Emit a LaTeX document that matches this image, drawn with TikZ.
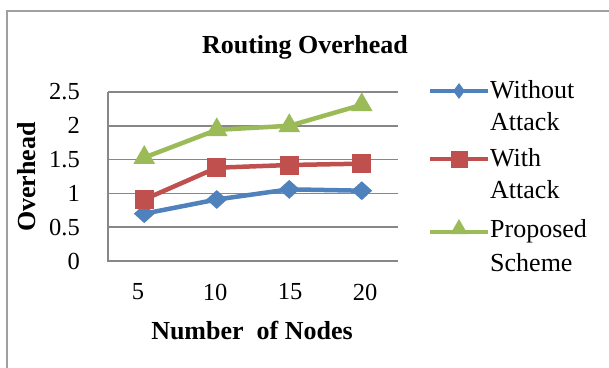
\documentclass[tikz,border=0pt]{standalone}
\usepackage{fontspec}
\setmainfont{Liberation Serif}
\usetikzlibrary{shapes.geometric}
\definecolor{sblue}{HTML}{4F81BD}
\definecolor{sred}{HTML}{C0504D}
\definecolor{sgreen}{HTML}{9BBB59}
\definecolor{gridgray}{HTML}{878787}
\definecolor{framegray}{HTML}{A0A0A0}
\tikzset{
  grid line/.style={draw=gridgray, line width=1.6pt},
  series/.style={line width=4.5pt, line join=round},
  dmark/.style={diamond, fill=sblue, minimum width=21pt, minimum height=19pt, inner sep=0pt},
  smark/.style={rectangle, fill=sred, minimum width=19pt, minimum height=19pt, inner sep=0pt},
  tmark/.style={regular polygon, regular polygon sides=3, fill=sgreen, minimum size=25pt, inner sep=0pt},
  ldmark/.style={diamond, fill=sblue, minimum width=12pt, minimum height=16pt, inner sep=0pt},
  lsmark/.style={rectangle, fill=sred, minimum width=17pt, minimum height=17pt, inner sep=0pt},
  ltmark/.style={regular polygon, regular polygon sides=3, fill=sgreen, minimum size=20pt, inner sep=0pt},
  ticklabel/.style={font=\fontsize{24.5}{24.5}\selectfont, inner sep=0pt},
  legtext/.style={font=\fontsize{26}{26}\selectfont, anchor=west, inner sep=0pt},
  boldlabel/.style={font=\fontsize{26}{26}\selectfont\bfseries, inner sep=0pt}
}
\begin{document}
\begin{tikzpicture}[x=1pt, y=-1pt]
\useasboundingbox (0,0) rectangle (609,367);
\fill[white] (0,0) rectangle (609,367);
% outer frame
\draw[framegray, line width=1.5pt] (7,380) -- (7,11) -- (620,11);
% title
\node[boldlabel] (title) at (305,47) {Routing Overhead};
% gridlines
\foreach \v in {0.5,1,1.5,2,2.5} {
  \draw[grid line] (108,{261-67.6*\v}) -- (398,{261-67.6*\v});
}
% axes
\draw[grid line] (108,{261-67.6*2.5}) -- (108,261) -- (398,261);
% y tick labels
\foreach \v/\t in {0/0,0.5/0.5,1/1,1.5/1.5,2/2,2.5/2.5} {
  \node[ticklabel, anchor=east] (y\t) at (80,{261-67.6*\v}) {\t};
}
% x tick labels
\node[ticklabel] (x5) at (138,292) {5};
\node[ticklabel] (x10) at (215,292) {10};
\node[ticklabel] (x15) at (290,292) {15};
\node[ticklabel] (x20) at (365,292) {20};
% axis titles
\node[boldlabel] (xtitle) at (252,330) {Number\ \ of Nodes};
\node[boldlabel, rotate=90] (ytitle) at (27,177) {Overhead};
% data coordinates
\coordinate (b1) at (144.25,{261-67.6*0.70});
\coordinate (b2) at (216.75,{261-67.6*0.91});
\coordinate (b3) at (289.25,{261-67.6*1.06});
\coordinate (b4) at (361.75,{261-67.6*1.04});
\coordinate (r1) at (144.25,{261-67.6*0.91});
\coordinate (r2) at (216.75,{261-67.6*1.38});
\coordinate (r3) at (289.25,{261-67.6*1.42});
\coordinate (r4) at (361.75,{261-67.6*1.44});
\coordinate (g1) at (144.25,{261-67.6*1.53});
\coordinate (g2) at (216.75,{261-67.6*1.94});
\coordinate (g3) at (289.25,{261-67.6*2.00});
\coordinate (g4) at (361.75,{261-67.6*2.31});
% blue series
\draw[series, sblue] (b1) -- (b2) -- (b3) -- (b4);
\foreach \i in {1,2,3,4} \node[dmark] (bm\i) at (b\i) {};
% red series
\draw[series, sred] (r1) -- (r2) -- (r3) -- (r4);
\foreach \i in {1,2,3,4} \node[smark] (rm\i) at (r\i) {};
% green series
\draw[series, sgreen] (g1) -- (g2) -- (g3) -- (g4);
\foreach \i in {1,2,3,4} \node[tmark] (gm\i) at (g\i) {};
% legend
\coordinate (l1a) at (430,91); \coordinate (l1b) at (488,91);
\draw[series, sblue] (l1a) -- (l1b);
\node[ldmark] (lm1) at (459,91) {};
\node[legtext] (lt1a) at (490,90) {Without};
\node[legtext] (lt1b) at (490,122) {Attack};
\coordinate (l2a) at (430,159); \coordinate (l2b) at (488,159);
\draw[series, sred] (l2a) -- (l2b);
\node[lsmark] (lm2) at (459,159) {};
\node[legtext] (lt2a) at (490,158) {With};
\node[legtext] (lt2b) at (490,190) {Attack};
\coordinate (l3a) at (430,232); \coordinate (l3b) at (488,232);
\draw[series, sgreen] (l3a) -- (l3b);
\node[ltmark] (lm3) at (459,229) {};
\node[legtext] (lt3a) at (490,231) {Proposed};
\node[legtext] (lt3b) at (490,263) {Scheme};
\end{tikzpicture}
\end{document}
